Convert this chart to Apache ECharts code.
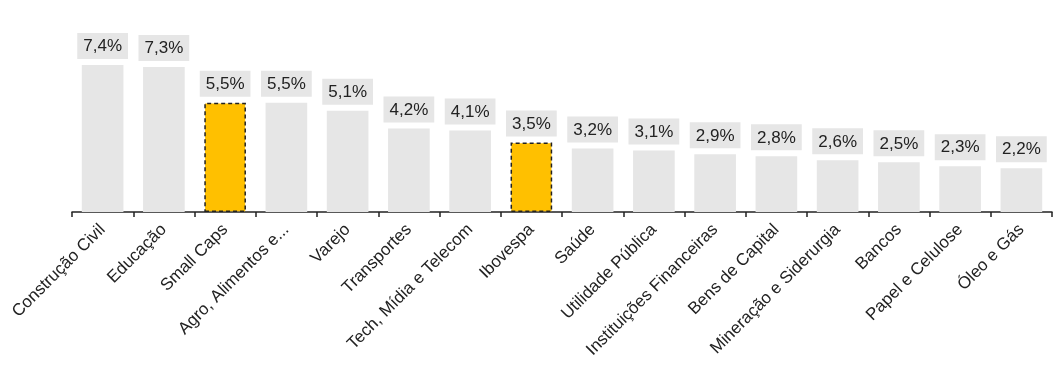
<!DOCTYPE html>
<html><head><meta charset="utf-8">
<script src="https://cdn.jsdelivr.net/npm/echarts@6/dist/echarts.min.js"></script>
<style>html,body{margin:0;padding:0;background:#fff}#c{width:1063px;height:378px}</style>
</head><body><div id="c"></div>
<script>
const categories = ["Construção Civil","Educação","Small Caps","Agro, Alimentos e...","Varejo","Transportes","Tech, Mídia e Telecom","Ibovespa","Saúde","Utilidade Pública","Instituições Financeiras","Bens de Capital","Mineração e Siderurgia","Bancos","Papel e Celulose","Óleo e Gás"];
const values = [7.4,7.3,5.5,5.5,5.1,4.2,4.1,3.5,3.2,3.1,2.9,2.8,2.6,2.5,2.3,2.2];
const highlighted = ["Small Caps","Ibovespa"];

const data = values.map((v,i)=>{
  const hi = highlighted.includes(categories[i]);
  return {value:v, itemStyle: hi ? {color:'#FFC000', borderColor:'#222', borderType:[4,3], borderWidth:1.5} : {color:'#e6e6e6'}};
});
const chart = echarts.init(document.getElementById('c'));
chart.setOption({
  animation:false,
  textStyle:{fontFamily:'Liberation Sans, Arial, sans-serif'},
  grid:{left:72,right:11,top:53,bottom:166},
  xAxis:{type:'category',data:categories,
    axisLine:{lineStyle:{color:'#222',width:1.5}},
    axisTick:{show:true,length:5,lineStyle:{color:'#222',width:1.5}},
    axisLabel:{rotate:45,fontSize:17,color:'#222',margin:15,interval:0}},
  yAxis:{type:'value',min:0,max:8,show:false,splitLine:{show:false}},
  series:[{type:'bar',data:data,barCategoryGap:'32%',
    label:{show:true,position:'top',distance:6,fontSize:17,color:'#222',
      backgroundColor:'#e6e6e6',padding:[5,6,4,6],
      formatter:p=>p.value.toFixed(1).replace('.',',')+'%'}}]
});
</script></body></html>
